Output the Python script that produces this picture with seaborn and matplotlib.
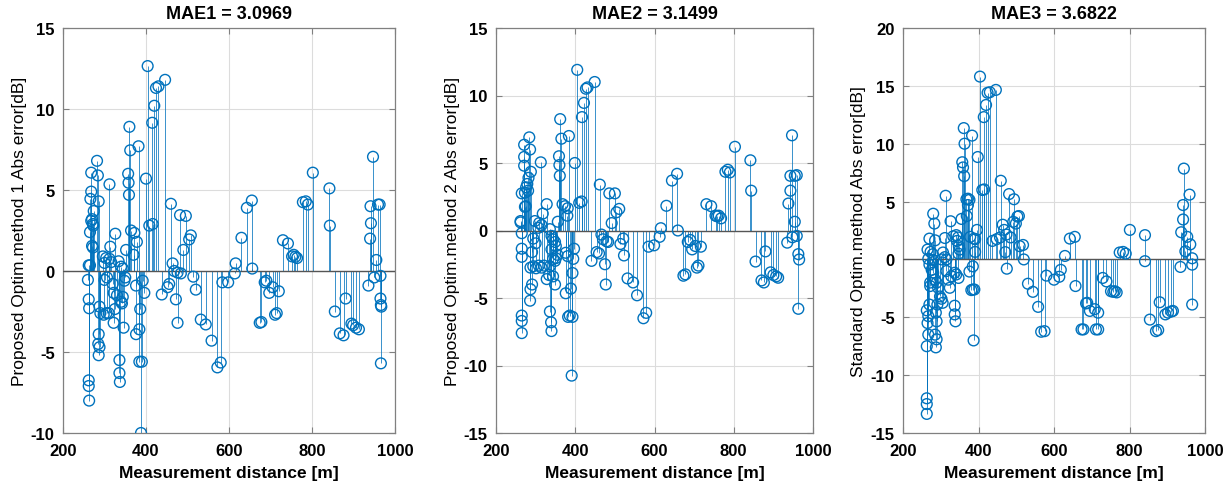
import numpy as np
import pandas as pd
import matplotlib
matplotlib.use("Agg")
import matplotlib.pyplot as plt
import seaborn as sns

# ---------------- data ----------------
titles = ["MAE1 = 3.0969", "MAE2 = 3.1499", "MAE3 = 3.6822"]
ylabels = ["Proposed Optim.method 1 Abs error[dB]",
           "Proposed Optim.method 2 Abs error[dB]",
           "Standard Optim.method Abs error[dB]"]
xlabel = "Measurement distance [m]"
xticks = [200, 400, 600, 800, 1000]
yticks1 = [-10, -5, 0, 5, 10, 15]
yticks2 = [-15, -10, -5, 0, 5, 10, 15]
yticks3 = [-15, -10, -5, 0, 5, 10, 15, 20]

dist1 = [262, 262, 263, 260, 262, 263, 262, 265, 265,
         268, 268, 266, 270, 272, 268, 273, 274, 270, 272,
         284, 282, 286, 288, 286, 285, 288, 286, 290,
         296, 300, 304, 306, 300, 298, 305, 310, 312, 314, 312, 316,
         320, 322, 322, 325, 326, 330, 334, 336, 336, 337, 340, 340, 342, 344, 346, 344, 348, 350,
         352, 357, 358, 359, 360, 362, 364, 370, 372, 376, 376, 378, 382, 384, 384, 386, 388, 390, 392, 396,
         400, 404, 408, 415, 416, 420, 424, 430, 438, 446, 452, 456, 460, 464, 468, 472, 476, 476,
         482, 484, 490, 496, 504, 508, 514, 520, 532, 544, 558, 572, 580, 584, 598, 614, 616, 630,
         643, 655, 656, 674, 678, 686, 690, 697, 705, 711, 715, 720, 730, 742, 752, 756, 760, 764,
         778, 785, 790, 802, 842, 843, 855, 867, 876, 881, 895, 899, 906, 913, 941, 942, 940, 936,
         947, 955, 950, 965, 959, 963, 965, 966, 967, 966]
err1 = [-6.75, -7.1, -8.0, -0.55, -1.75, -2.3, 0.35, 0.35, 2.4,
        6.07, 4.9, 4.45, 3.2, 2.9, 3.1, 2.8, 3.7, 1.55, 1.45,
        5.9, 6.8, 4.3, -2.2, -3.9, -4.5, -4.7, -5.2, -2.6,
        0.9, 0.5, 0.8, -0.4, -0.55, -2.7, -2.6, -2.6, 5.35, 1.5, 0.75, 0.55,
        -0.8, -1.35, -3.2, -2.35, 2.3, -1.5, 0.6, -5.5, -6.3, -6.85, 0.27, -1.9, -2.0, 0.15, -3.5, -1.6, -0.6, -0.4,
        1.3, 6.0, 5.45, 4.7, 8.9, 7.45, 2.5, 1.0, 2.35, -0.9, -3.9, 1.8, 7.7, -3.6, -5.6, -2.35, -10.0, -5.6, -0.6, -1.35,
        5.7, 12.65, 2.8, 9.15, 2.9, 10.2, 11.3, 11.4, -1.45, 11.8, -1.0, -0.8, 4.15, 0.47, 0.0, -1.75, -3.2, -0.1,
        3.45, -0.15, 1.3, 3.4, 1.95, 2.2, -0.35, -1.15, -3.0, -3.3, -4.3, -5.95, -5.65, -0.7, -0.7, -0.15, 0.47, 2.05,
        3.9, 4.35, 0.15, -3.2, -3.15, -0.7, -0.6, -1.35, -1.0, -2.7, -2.6, -1.25, 1.9, 1.7, 0.9, 1.0, 0.88, 0.8,
        4.25, 4.3, 4.1, 6.07, 5.1, 2.8, -2.5, -3.85, -3.97, -1.7, -3.25, -3.35, -3.5, -3.6, 4.0, 2.95, 2.0, -0.9,
        7.05, 0.68, -0.4, -0.3, 4.1, 4.1, -1.7, -2.1, -2.2, -5.7]

dist2 = [265, 262, 262, 265, 265, 265, 265, 265, 265,
         271, 271, 271, 275, 273, 288, 282, 279, 276, 281, 273, 284, 286,
         294, 300, 291, 287, 294, 301, 308, 315, 321, 328, 291, 287, 286,
         298, 309, 315, 307, 313, 318, 328,
         336, 340, 344, 349, 351, 340, 344, 349, 351, 355, 336, 334, 344, 349,
         336, 339, 340, 356, 359, 360, 361, 362, 365, 368, 374, 381, 380,
         376, 381, 376, 382, 386, 393, 389, 391, 384, 397, 395, 393, 399,
         405, 410, 416, 417, 422, 427, 431, 441, 449,
         454, 460, 462, 466, 470, 475, 477, 479, 483, 486, 492, 500, 504, 511,
         514, 521, 523, 532, 546, 556, 572, 579, 585, 599, 613, 616, 630, 644, 657, 659,
         673, 678, 684, 690, 695, 703, 707, 711, 717, 731, 743, 754, 758, 762, 768,
         779, 785, 790, 803, 842, 844, 855, 870, 876, 880, 893, 900, 907, 912,
         947, 943, 943, 938, 954, 954, 959, 935, 948, 959, 963, 965, 963]
err2 = [2.75, 0.7, 0.6, -0.2, -1.35, -1.95, -6.3, -6.7, -7.6,
        6.35, 5.45, 4.8, 1.8, 1.75, 4.35, 3.9, 3.45, 3.2, 2.95, 2.8, 6.9, 6.0,
        -0.6, -0.95, -1.6, -2.75, -2.65, -2.8, -2.6, -2.75, -2.6, -3.6, -4.0, -4.35, -5.2,
        0.7, 0.55, 0.4, 0.2, 5.05, 1.25, 1.95,
        0.1, -0.4, -0.65, -0.85, -1.15, -1.4, -2.1, -2.25, -2.05, -1.8, -2.65, -3.3, -3.4, -4.0,
        -6.0, -6.8, -7.45, 0.65, 5.5, 4.85, 4.05, 8.25, 6.8, 1.95, 1.8, 1.65, 1.1,
        -1.65, -1.9, -4.65, -6.4, -6.3, -6.4, -4.3, -10.75, 7.0, -1.35, -2.1, -3.15, 5.0,
        11.9, 2.05, 2.15, 8.4, 9.45, 10.5, 10.6, -2.25, 11.0,
        -1.6, -1.7, 3.4, -0.3, -0.65, -2.5, -4.0, -0.8, -0.85, 2.75, 0.55, 2.75, 1.35, 1.6,
        -1.0, -0.6, -1.85, -3.55, -3.85, -4.8, -6.5, -6.1, -1.2, -1.1, -0.47, 0.17, 1.83, 3.7, 4.2, 0.0,
        -3.35, -3.25, -0.85, -0.7, -1.4, -1.15, -2.75, -2.6, -1.2, 1.95, 1.8, 1.1, 1.05, 1.1, 0.9,
        4.35, 4.5, 4.3, 6.2, 5.2, 2.95, -2.3, -3.7, -3.85, -1.55, -3.1, -3.3, -3.4, -3.5,
        7.05, 4.05, 2.95, 2.0, 0.65, 4.05, 4.1, -0.9, -0.5, -0.4, -1.75, -2.15, -5.8]

dist3 = [404, 446, 424, 430, 420, 414, 361, 383, 363, 398, 357, 359, 362, 459, 313, 481, 494,
         410, 415, 368, 372, 376, 372, 369, 280, 283, 326, 355, 499, 503, 507,
         464, 468, 474, 485, 492, 396, 270, 285, 311, 333, 341, 346, 343, 348, 350, 347,
         378, 388, 391, 437, 448, 457, 509, 518, 391, 471, 265, 273, 279, 267, 280,
         306, 311, 302, 315, 520, 270, 276, 272, 272, 280, 285, 289, 293, 298, 302, 305,
         315, 320, 324, 328, 337, 341, 347, 376, 385, 475, 381, 385, 389, 387,
         337, 337, 339, 291, 287, 289, 270, 263, 267, 265, 267, 263, 285, 289, 287,
         263, 263, 263, 531, 544, 558, 566, 575, 580,
         600, 614, 618, 629, 642, 655, 657, 673, 678, 685, 688, 695, 708, 717, 711, 717,
         729, 739, 751, 757, 761, 766, 774, 783, 790, 801, 841, 841, 854, 870, 876, 880,
         895, 902, 911, 915, 944, 959, 942, 942, 937, 948, 953, 961, 966, 966, 935, 966]
err3 = [15.8, 14.65, 14.4, 14.45, 13.35, 12.3, 11.35, 10.7, 10.0, 8.85, 8.4, 7.95, 7.2, 6.8, 5.5, 5.65, 5.2,
        6.0, 6.05, 5.2, 5.25, 5.15, 4.7, 3.75, 3.95, 3.1, 3.3, 3.5, 3.1, 3.7, 3.75,
        3.0, 2.55, 2.15, 1.9, 3.25, 2.55, 1.8, 1.65, 1.85, 2.0, 2.1, 1.9, 1.6, 1.15, 0.85, 0.5,
        1.95, 1.8, 1.75, 1.6, 1.75, 1.9, 1.15, 1.25, 0.65, 0.63, 0.85, 0.65, 0.45, 0.05, -0.05,
        0.6, 0.2, 0.0, 0.0, 0.0, -0.45, -0.9, -2.0, -2.3, -1.15, -1.75, -2.0, -2.45, -3.2, -3.4, -3.75,
        -1.0, -1.75, -2.45, -1.45, -1.15, -1.3, -1.6, -1.05, -0.6, -0.8, -2.65, -2.6, -2.6, -7.0,
        -4.0, -4.75, -5.35, -3.9, -4.6, -5.35, -3.9, -4.4, -4.9, -5.5, -6.5, -7.5, -6.5, -6.9, -7.6,
        -12.0, -12.5, -13.35, -2.1, -2.8, -4.1, -6.25, -6.2, -1.4,
        -1.75, -1.5, -0.9, 0.3, 1.8, 1.95, -2.3, -6.05, -6.05, -3.8, -3.75, -4.45, -4.3, -4.6, -6.05, -6.05,
        -1.6, -1.9, -2.75, -2.8, -2.75, -2.85, 0.6, 0.65, 0.5, 2.55, 2.1, -0.15, -5.2, -6.2, -6.1, -3.7,
        -4.75, -4.6, -4.5, -4.45, 7.85, 5.6, 4.7, 3.45, 2.35, 0.7, 1.95, 1.3, 0.1, -0.45, -0.65, -3.9]

panels = [(dist1, err1, yticks1), (dist2, err2, yticks2), (dist3, err3, yticks3)]

# ---------------- style ----------------
sns.set_theme(style="whitegrid")
plt.rcParams['font.family'] = ['Liberation Sans', 'DejaVu Sans']
plt.rcParams['text.color'] = 'black'
plt.rcParams['axes.labelcolor'] = 'black'
blue = "#0072BD"

fig = plt.figure(figsize=(12.32, 4.85), dpi=100)
W, H = 1232, 485
boxes = [(63, 395), (496, 813), (903, 1205)]
top_px, bot_px = 29, 434

for i, ((d, e, yt), (l, r)) in enumerate(zip(panels, boxes)):
    ax = fig.add_axes([l / W, (H - bot_px) / H, (r - l) / W, (bot_px - top_px) / H])
    df = pd.DataFrame({"dist": d, "err": e})
    ax.vlines(df["dist"], 0, df["err"], color=blue, linewidth=0.6, alpha=0.9, zorder=2)
    ax.axhline(0, color="#555555", linewidth=1.0, zorder=3)
    sns.scatterplot(data=df, x="dist", y="err", ax=ax, marker="o", s=60,
                    facecolor="none", edgecolor=blue, linewidth=1.0, zorder=4)
    ax.set_xlim(200, 1000)
    ax.set_ylim(yt[0], yt[-1])
    ax.set_xticks(xticks)
    ax.set_yticks(yt)
    ax.set_xticklabels([str(v) for v in xticks], fontweight="bold", fontsize=12)
    ax.set_yticklabels([str(v) for v in yt], fontweight="bold", fontsize=12)
    ax.set_title(titles[i], fontweight="bold", fontsize=13, pad=7, color="black")
    ax.set_xlabel(xlabel, fontweight="bold", fontsize=12.5, labelpad=5, color="black")
    ax.set_ylabel(ylabels[i], fontsize=12.5, labelpad=3, color="black")
    ax.set_facecolor("white")
    ax.grid(True, color="#dcdcdc", linewidth=0.8)
    for s in ax.spines.values():
        s.set_visible(True)
        s.set_color("#808080")
        s.set_linewidth(0.9)
    ax.tick_params(direction="in", length=4, width=0.8, color="#808080",
                   top=True, right=True, bottom=True, left=True,
                   labelcolor="black")
    ax.tick_params(axis="x", pad=7)
    ax.tick_params(axis="y", pad=6)

fig.savefig("out.png", dpi=100, facecolor="white")
